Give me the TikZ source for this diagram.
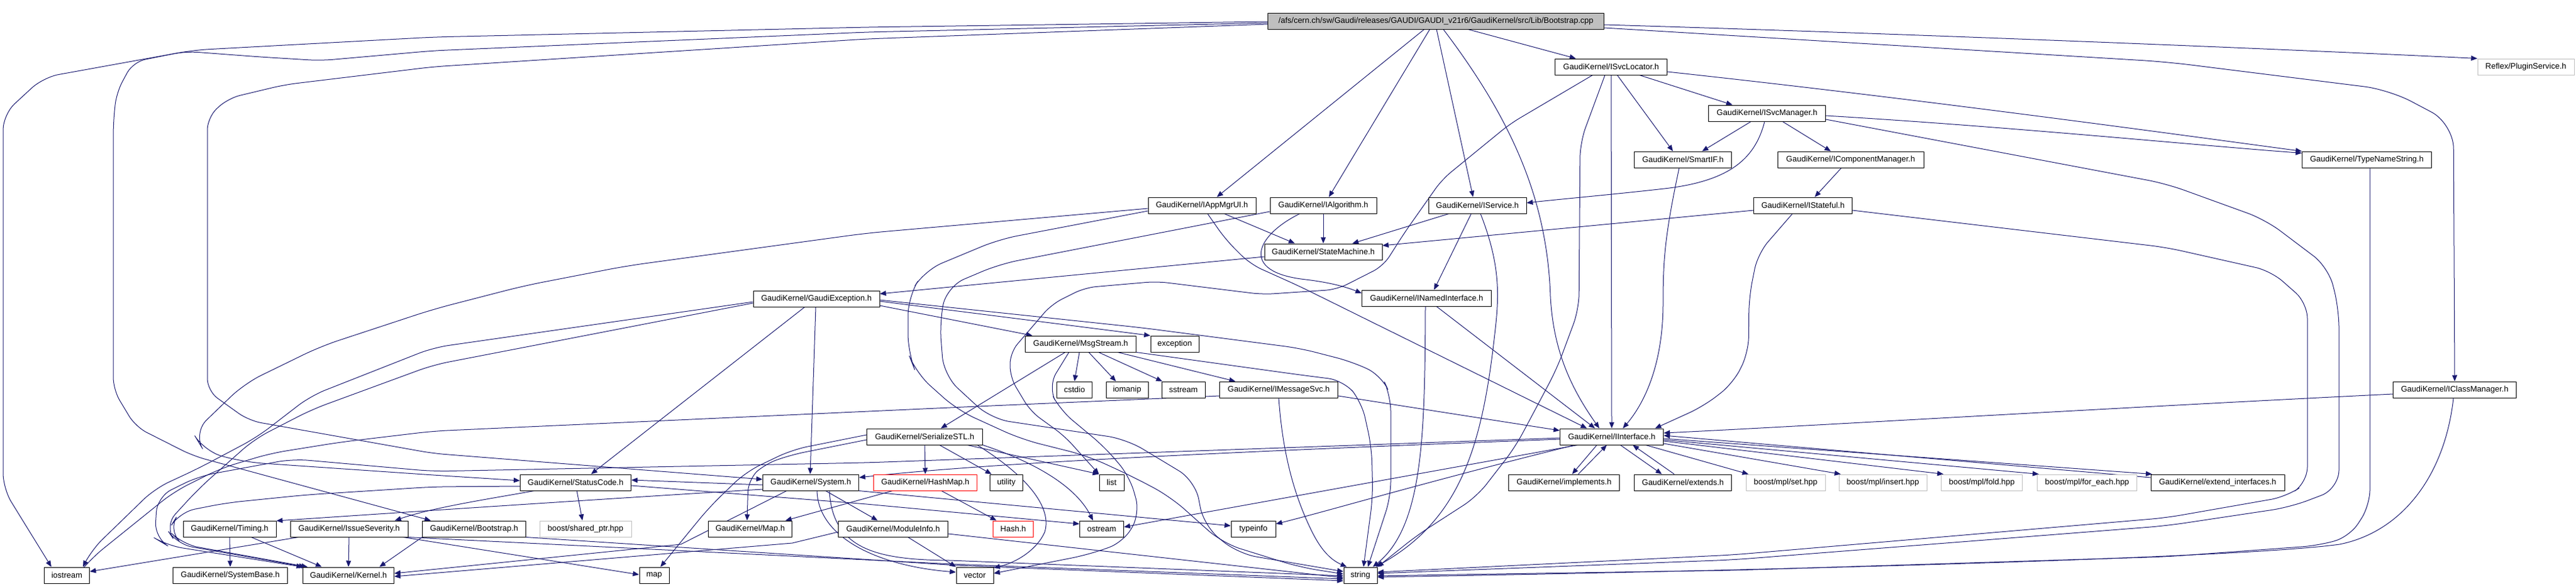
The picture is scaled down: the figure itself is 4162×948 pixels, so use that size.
\documentclass[tikz,border=0pt]{standalone}
\usepackage{fontspec}
\setmainfont{Liberation Sans}
\usetikzlibrary{arrows.meta}
\definecolor{edgeblue}{RGB}{25,25,112}
\definecolor{grayb}{RGB}{191,191,191}
\pgfdeclarelayer{edgelayer}
\pgfsetlayers{edgelayer,main}
\tikzset{
  nbox/.style={draw=black, line width=1pt, fill=white, minimum height=26pt, inner sep=0pt,
    font=\fontsize{13}{15}\selectfont, anchor=center},
  gbox/.style={nbox, draw=grayb},
  rbox/.style={nbox, draw=red},
  dep/.style={draw=edgeblue, line width=1pt, -{Triangle[length=10pt,width=8pt]}},
}
\begin{document}
\begin{tikzpicture}[x=1pt,y=-1pt]
\useasboundingbox (0,0) rectangle (4162,948);
% ---------- nodes ----------
\node[nbox, fill=grayb, minimum width=543pt] (T) at (2320,34) {/afs/cern.ch/sw/Gaudi/releases/GAUDI/GAUDI\_v21r6/GaudiKernel/src/Lib/Bootstrap.cpp};
\node[nbox, minimum width=181pt] (SL) at (2603,108) {GaudiKernel/ISvcLocator.h};
\node[gbox, minimum width=156pt] (PS) at (4081,108) {Reflex/PluginService.h};
\node[nbox, minimum width=189pt] (SM) at (2855,183) {GaudiKernel/ISvcManager.h};
\node[nbox, minimum width=157pt] (SIF) at (2719,258) {GaudiKernel/SmartIF.h};
\node[nbox, minimum width=236pt] (ICM) at (2990,258) {GaudiKernel/IComponentManager.h};
\node[nbox, minimum width=209pt] (TNS) at (3824,258) {GaudiKernel/TypeNameString.h};
\node[nbox, minimum width=174pt] (AMU) at (1942,332) {GaudiKernel/IAppMgrUI.h};
\node[nbox, minimum width=172pt] (IAlg) at (2138,332) {GaudiKernel/IAlgorithm.h};
\node[nbox, minimum width=158pt] (ISvc) at (2387,332) {GaudiKernel/IService.h};
\node[nbox, minimum width=159pt] (IStf) at (2913,332) {GaudiKernel/IStateful.h};
\node[nbox, minimum width=190pt] (SMc) at (2138,407) {GaudiKernel/StateMachine.h};
\node[nbox, minimum width=204pt] (GE) at (1319,483) {GaudiKernel/GaudiException.h};
\node[nbox, minimum width=209pt] (INI) at (2305,482) {GaudiKernel/INamedInterface.h};
\node[nbox, minimum width=179pt] (MS) at (1746,556) {GaudiKernel/MsgStream.h};
\node[nbox, minimum width=78pt] (exc) at (1898,556) {exception};
\node[nbox, minimum width=57pt] (cstdio) at (1736,630) {cstdio};
\node[nbox, minimum width=68pt] (iomanip) at (1821,630) {iomanip};
\node[nbox, minimum width=70pt] (sstream) at (1912,630) {sstream};
\node[nbox, minimum width=191pt] (IMS) at (2066,630) {GaudiKernel/IMessageSvc.h};
\node[nbox, minimum width=199pt] (ICl) at (3966,630) {GaudiKernel/IClassManager.h};
\node[nbox, minimum width=187pt] (SS) at (1494,706) {GaudiKernel/SerializeSTL.h};
\node[nbox, minimum width=167pt] (II) at (2604,706) {GaudiKernel/IInterface.h};
\node[nbox, minimum width=179pt] (SC) at (930,780) {GaudiKernel/StatusCode.h};
\node[nbox, minimum width=155pt] (Sys) at (1310,780) {GaudiKernel/System.h};
\node[rbox, minimum width=167pt] (HM) at (1495,780) {GaudiKernel/HashMap.h};
\node[nbox, minimum width=53pt] (util) at (1626,780) {utility};
\node[nbox, minimum width=40pt] (list) at (1796,780) {list};
\node[nbox, minimum width=179pt] (impl) at (2527,780) {GaudiKernel/implements.h};
\node[nbox, minimum width=157pt] (ext) at (2719,780) {GaudiKernel/extends.h};
\node[gbox, minimum width=128pt] (bset) at (2885,780) {boost/mpl/set.hpp};
\node[gbox, minimum width=142pt] (bins) at (3042,780) {boost/mpl/insert.hpp};
\node[gbox, minimum width=131pt] (bfold) at (3202,780) {boost/mpl/fold.hpp};
\node[gbox, minimum width=161pt] (bfe) at (3372,780) {boost/mpl/for\_each.hpp};
\node[nbox, minimum width=216pt] (ei) at (3583,780) {GaudiKernel/extend\_interfaces.h};
\node[nbox, minimum width=150pt] (Tim) at (371,855) {GaudiKernel/Timing.h};
\node[nbox, minimum width=190pt] (IS) at (564,855) {GaudiKernel/IssueSeverity.h};
\node[nbox, minimum width=167pt] (Boot) at (766,855) {GaudiKernel/Bootstrap.h};
\node[gbox, minimum width=148pt] (bsp) at (946,855) {boost/shared\_ptr.hpp};
\node[nbox, minimum width=135pt] (Map) at (1212,855) {GaudiKernel/Map.h};
\node[nbox, minimum width=177pt] (MI) at (1443,855) {GaudiKernel/ModuleInfo.h};
\node[rbox, minimum width=65pt] (Hash) at (1637,855) {Hash.h};
\node[nbox, minimum width=71pt] (ostream) at (1780,855) {ostream};
\node[nbox, minimum width=72pt] (typeinfo) at (2025,855) {typeinfo};
\node[nbox, minimum width=73pt] (iostream) at (108,930) {iostream};
\node[nbox, minimum width=185pt] (SB) at (372,930) {GaudiKernel/SystemBase.h};
\node[nbox, minimum width=147pt] (K) at (563,930) {GaudiKernel/Kernel.h};
\node[nbox, minimum width=48pt] (map) at (1057,930) {map};
\node[nbox, minimum width=60pt] (vector) at (1575,930) {vector};
\node[nbox, minimum width=54pt] (string) at (2198,930) {string};
% ---------- edges ----------
\begin{pgfonlayer}{edgelayer}
% Bootstrap.cpp
\draw[dep, rounded corners=25pt] ([yshift=-1]T.west) -- (1400,44) -- (700,60) -- (313,81) -- (70,125) -- (5,185) -- (5,790) -- ([xshift=-25]iostream.north);
\draw[dep, rounded corners=20pt] ([yshift=-3]T.west) -- (1400,52) -- (700,82) -- (518,98) -- (420,92) -- (300,83) -- (215,100) -- (188,150) -- (183,200) -- (183,630) -- (219,690) -- (312,737) -- ([xshift=-70]Boot.north);
\draw[dep, rounded corners=20pt] ([yshift=-5]T.west) -- (1400,63) -- (700,108) -- (460,137) -- (368,159) -- (335,190) -- (335,632) -- (402,680) -- (700,733) -- ([yshift=5]Sys.west);
\draw[dep] ([xshift=-19]T.south) -- ([xshift=24]AMU.north);
\draw[dep] ([xshift=-10]T.south) -- ([xshift=9]IAlg.north);
\draw[dep] ([xshift=1]T.south) -- ([xshift=-7]ISvc.north);
\draw[dep] ([xshift=12]T.south) .. controls (2440,190) and (2500,320) .. (2505,480) .. controls (2510,570) and (2540,630) .. ([xshift=-20]II.north);
\draw[dep] ([xshift=52]T.south) -- ([xshift=-57]SL.north);
\draw[dep] ([yshift=-6]T.east) .. controls (3100,55) and (3700,80) .. (PS.north west);
\draw[dep, rounded corners=40pt] ([yshift=-11]T.east) -- (3500,100) -- (3860,145) -- (3964,200) -- (ICl.north);
% ISvcLocator
\draw[dep, rounded corners=18pt] ([xshift=-30]SL.south) -- (2440,200) -- (2330,290) -- (2270,375) -- (2235,430) -- (2160,468) -- (2040,476) -- (1869,455) -- (1753,465) -- (1699,492) -- (1632,570) -- (1632,610) -- (1665,665) -- (1720,705) -- (list.north west);
\draw[dep, rounded corners=25pt] ([xshift=-10]SL.south) -- (2553,230) -- (2551,500) -- (2515,597) -- (2448,723) -- (2386,803) -- (2290,865) -- (string.north east);
\draw[dep] (SL.south) -- (II.north);
\draw[dep] ([xshift=10]SL.south) -- ([xshift=-16]SIF.north);
\draw[dep] ([xshift=46]SL.south) -- ([xshift=-56]SM.north);
\draw[dep] ([yshift=-8]SL.east) .. controls (3100,160) and (3500,215) .. (TNS.north west);
% ISvcManager
\draw[dep] ([xshift=-26]SM.south) -- ([xshift=31]SIF.north);
\draw[dep] ([xshift=-4]SM.south) .. controls (2835,260) and (2790,295) .. (2680,306) .. controls (2600,315) and (2520,322) .. ([yshift=4]ISvc.east);
\draw[dep] ([xshift=25]SM.south) -- ([xshift=-32]ICM.north);
\draw[dep] ([yshift=-4]SM.east) .. controls (3250,205) and (3550,235) .. ([yshift=-3]TNS.north west);
\draw[dep, rounded corners=30pt] ([yshift=-10]SM.east) -- (3500,297) -- (3660,355) -- (3762,432) -- (3779,500) -- (3779,790) -- (3700,820) -- (3500,850) -- (2800,905) -- ([yshift=3]string.east);
% others upper right
\draw[dep] ([xshift=-15]ICM.south) -- ([xshift=19]IStf.north);
\draw[dep] ([yshift=-8]IStf.west) -- ([yshift=10]SMc.east);
\draw[dep, rounded corners=25pt] ([xshift=-17]IStf.south) -- (2840,410) -- (2826,480) -- (2825,570) -- (2800,620) -- (2752,657) -- ([xshift=70]II.north);
\draw[dep, rounded corners=25pt] ([yshift=-8]IStf.east) -- (3500,400) -- (3669,438) -- (3728,490) -- (3728,780) -- (3694,803) -- (3500,837) -- (2800,897) -- ([yshift=5]string.east);
\draw[dep] ([xshift=-6]SIF.south) .. controls (2690,380) and (2687,420) .. (2687,490) .. controls (2687,600) and (2650,660) .. ([xshift=18]II.north);
\draw[dep, rounded corners=25pt] ([xshift=5]TNS.south) -- (3829,817) -- (3796,868) -- (3745,882) -- (3500,900) -- (2800,922) -- ([yshift=-1]string.east);
\draw[dep] ([xshift=-2]ICl.south) .. controls (3950,770) and (3880,860) .. (3780,880) .. controls (3600,905) and (2700,925) .. ([yshift=-3]string.east);
\draw[dep] ([yshift=-7]ICl.west) .. controls (3400,660) and (2900,690) .. ([yshift=6]II.east);
% IService
\draw[dep] ([xshift=-46]ISvc.south) -- ([xshift=47]SMc.north);
\draw[dep] ([xshift=-10]ISvc.south) -- ([xshift=12]INI.north);
\draw[dep] ([xshift=5]ISvc.south) .. controls (2425,430) and (2422,480) .. (2415,540) .. controls (2395,720) and (2360,840) .. ([xshift=-3]string.north east);
% INamedInterface
\draw[dep] ([xshift=16]INI.south) -- ([xshift=-27]II.north);
\draw[dep] ([xshift=-2]INI.south) .. controls (2302,700) and (2300,850) .. ([xshift=20]string.north);
% IAlgorithm
\draw[dep] (IAlg.south) -- (SMc.north);
\draw[dep] ([xshift=-38]IAlg.south) .. controls (2030,380) and (2000,440) .. (2110,452) .. controls (2160,458) and (2185,468) .. ([yshift=8]INI.west);
\draw[dep, rounded corners=30pt] ([yshift=-10]IAlg.west) -- (1615,427) -- (1530,463) -- (1518,520) -- (1525,607) -- (1601,677) -- (1820,710) -- (1931,777) -- (1945,850) -- (2000,895) -- (2100,912) -- ([yshift=6]string.west);
% IAppMgrUI
\draw[dep, rounded corners=30pt] ([yshift=-5]AMU.west) -- (1400,377) -- (1012,430) -- (847,462) -- (700,500) -- (518,560) -- (395,620) -- (312,700) -- (330,730) -- (395,747) -- (700,768) -- ([yshift=3]SC.west);
\draw[dep, rounded corners=30pt] ([yshift=-9]AMU.west) -- (1614,387) -- (1494,437) -- (1467,480) -- (1467,570) -- (1480,603) -- (1547,663) -- (1650,710) -- (1757,737) -- (1829,770) -- (1891,803) -- (1975,878) -- (2100,917) -- ([yshift=2]string.west);
\draw[dep] ([xshift=36]AMU.south) -- ([xshift=-46]SMc.north);
\draw[dep, rounded corners=20pt] ([xshift=9]AMU.south) -- (1980,387) -- (2020,427) -- (2100,463) -- ([xshift=-40]II.north);
% StateMachine
\draw[dep] ([yshift=-8]SMc.west) -- ([yshift=8]GE.east);
% GaudiException
\draw[dep] ([yshift=-4]GE.east) -- (exc.north west);
\draw[dep] ([yshift=-11]GE.east) -- ([xshift=-78]MS.north);
\draw[dep, rounded corners=25pt] ([yshift=-2]GE.east) -- (1846,530) -- (2100,563) -- (2185,585) -- (2232,607) -- (2247,640) -- (2247,803) -- ([xshift=12]string.north);
\draw[dep, rounded corners=25pt] ([yshift=-5]GE.west) -- (700,562) -- (502,640) -- (415,707) -- (321,757) -- (250,790) -- (147,890) -- ([xshift=26]iostream.north);
\draw[dep, rounded corners=25pt] ([yshift=-7]GE.west) -- (700,590) -- (504,662) -- (411,710) -- (321,790) -- (266,850) -- (286,880) -- ([xshift=4]K.north west);
\draw[dep] ([xshift=-19]GE.south) -- ([xshift=25]SC.north);
\draw[dep] ([xshift=-1]GE.south) -- ([xshift=-1]Sys.north);
% MsgStream
\draw[dep] ([xshift=-2]MS.south) -- (cstdio.north);
\draw[dep] ([xshift=13]MS.south) -- ([xshift=-18]iomanip.north);
\draw[dep] ([xshift=29]MS.south) -- ([xshift=-34]sstream.north);
\draw[dep] ([xshift=60]MS.south) -- ([xshift=-70]IMS.north);
\draw[dep] ([xshift=-25]MS.south) -- ([xshift=26]SS.north);
\draw[dep, rounded corners=25pt] ([xshift=-19]MS.south) -- (1693,625) -- (1713,663) -- (1785,723) -- (1825,770) -- (1842,830) -- (1815,877) -- (1757,897) -- ([yshift=3]vector.east);
\draw[dep, rounded corners=25pt] (MS.south east) -- (2100,606) -- (2171,615) -- (2200,650) -- (2216,723) -- (2218,803) -- ([xshift=5]string.north);
% IMessageSvc
\draw[dep] ([yshift=-10]IMS.east) -- ([yshift=10]II.west);
\draw[dep, rounded corners=25pt] ([yshift=-10]IMS.west) -- (1579,657) -- (700,697) -- (549,715) -- (437,733) -- (357,757) -- (281,795) -- (147,903) -- ([xshift=28]iostream.north);
\draw[dep] (IMS.south) .. controls (2072,730) and (2090,800) .. (2120,860) .. controls (2135,890) and (2150,905) .. ([xshift=-22]string.north);
% SerializeSTL
\draw[dep] (SS.south) -- (HM.north);
\draw[dep] ([xshift=24]SS.south) -- ([xshift=-24]util.north);
\draw[dep] ([xshift=69]SS.south) -- (list.north west);
\draw[dep] (SS.south east) .. controls (1680,750) and (1740,790) .. ([xshift=-14]ostream.north);
\draw[dep] ([xshift=85]SS.south) .. controls (1660,770) and (1700,820) .. (1688,860) .. controls (1675,890) and (1640,910) .. ([yshift=12]vector.east);
\draw[dep, rounded corners=25pt] ([yshift=3]SS.west) -- (1280,727) -- (1205,763) -- (1146,820) -- ([xshift=10]map.north);
\draw[dep, rounded corners=20pt] ([yshift=-5]SS.west) -- (1280,735) -- (1236,750) -- (1209,775) -- ([xshift=-5]Map.north);
% HashMap
\draw[dep] ([xshift=26]HM.south) -- ([xshift=-27]Hash.north);
\draw[dep] ([xshift=-53]HM.south) -- ([xshift=57]Map.north);
% StatusCode
\draw[dep] ([xshift=2]SC.south) -- ([xshift=-5]bsp.north);
\draw[dep] ([xshift=-67]SC.south) .. controls (800,805) and (700,820) .. ([xshift=74]IS.north);
\draw[dep] ([yshift=-5]SC.east) -- (1400,815) -- ([yshift=8]ostream.west);
\draw[dep, rounded corners=25pt] ([yshift=-6]SC.west) -- (700,787) -- (495,800) -- (366,813) -- (290,828) -- (272,857) -- (295,880) -- ([xshift=8]K.north west);
% System
\draw[dep] ([yshift=-4]Sys.west) -- ([yshift=4]SC.east);
\draw[dep] ([yshift=-11]Sys.west) .. controls (1000,805) and (700,825) .. ([yshift=13]Tim.east);
\draw[dep] ([xshift=-39]Sys.south) -- (1100,880) -- ([yshift=3]K.east);
\draw[dep] ([xshift=24]Sys.south) -- ([xshift=-25]MI.north);
\draw[dep] ([xshift=10]Sys.south) .. controls (1322,870) and (1420,915) .. ([yshift=5]vector.west);
\draw[dep] (Sys.south east) -- ([yshift=5]typeinfo.west);
\draw[dep] ([xshift=30]Sys.south) .. controls (1345,890) and (1420,905) .. (1535,906) -- ([yshift=-1]string.west);
% ModuleInfo
\draw[dep] ([xshift=24]MI.south) -- (vector.north west);
\draw[dep] ([yshift=-5]MI.west) -- (1280,878) -- ([yshift=-2]K.east);
\draw[dep] ([yshift=-8]MI.east) -- ([yshift=-4]string.west);
% Timing, IssueSeverity, Bootstrap
\draw[dep] (Tim.south) -- (SB.north);
\draw[dep] ([xshift=35]Tim.south) -- ([xshift=-43]K.north);
\draw[dep] (IS.south) -- (K.north);
\draw[dep] ([xshift=-82]IS.south) -- ([yshift=6]iostream.east);
\draw[dep] ([xshift=-8]IS.south east) -- ([yshift=1]map.west);
\draw[dep] (IS.south east) -- (1540,912) -- ([yshift=-6]string.west);
\draw[dep] (Boot.south west) -- ([xshift=50]K.north);
\draw[dep] (Boot.south east) -- (1545,914) -- ([yshift=-9]string.west);
% IInterface
\draw[dep] ([yshift=-4]II.west) .. controls (2000,730) and (1600,748) .. ([yshift=8]Sys.east);
\draw[dep, rounded corners=25pt] ([yshift=-2]II.west) -- (1400,748) -- (700,762) -- (473,742) -- (321,770) -- (254,803) -- (250,870) -- (270,882) -- (K.north west);
\draw[dep] ([xshift=-55]II.south) -- ([yshift=3]ostream.east);
\draw[dep] ([xshift=-60]II.south) .. controls (2300,780) and (2150,825) .. ([yshift=8]typeinfo.east);
\draw[dep] ([xshift=-24]II.south) -- ([xshift=13]impl.north);
\draw[dep] ([xshift=23]impl.north) -- ([xshift=-8]II.south);
\draw[dep] ([xshift=14]II.south) -- ([xshift=-34]ext.north);
\draw[dep] ([xshift=-14]ext.north) -- ([xshift=34]II.south);
\draw[dep] ([xshift=55]II.south) -- ([xshift=-60]bset.north);
\draw[dep] ([yshift=-11]II.east) -- ([xshift=-68]bins.north);
\draw[dep] ([yshift=-7]II.east) -- ([xshift=-62]bfold.north);
\draw[dep] ([yshift=-5]II.east) -- ([xshift=-78]bfe.north);
\draw[dep] ([yshift=-3]II.east) -- ([xshift=-106]ei.north);
\draw[dep] ([yshift=8]ei.west) -- ([yshift=2]II.east);
\end{pgfonlayer}
\end{tikzpicture}
\end{document}
